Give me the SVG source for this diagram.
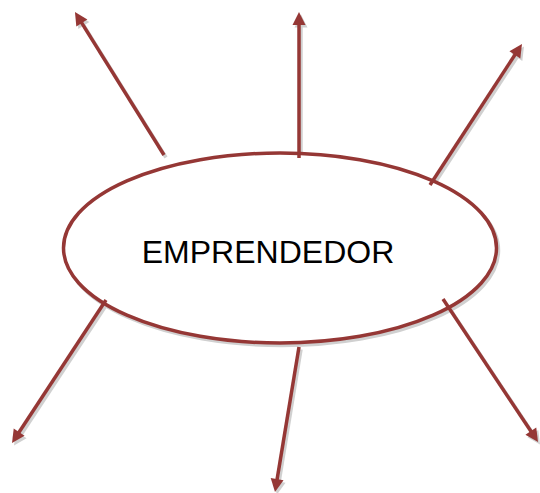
<svg xmlns="http://www.w3.org/2000/svg" width="540" height="493" viewBox="0 0 540 493">
<style>
.arr{stroke:#953735;stroke-width:3.5;fill:none;marker-end:url(#ah)}
.sh{stroke:#d0d0d0;stroke-width:3.5;fill:none;marker-end:url(#ahs)}
.lbl{font-family:"Liberation Sans",Arial,sans-serif;font-size:32px;fill:#000}
</style>
<defs>
<marker id="ah" markerUnits="userSpaceOnUse" markerWidth="13" markerHeight="13" refX="5" refY="6.5" orient="auto" overflow="visible">
<path d="M0,0 L13,6.5 L0,13 z" fill="#953735"/>
</marker>
<marker id="ahs" markerUnits="userSpaceOnUse" markerWidth="13" markerHeight="13" refX="5" refY="6.5" orient="auto" overflow="visible">
<path d="M0,0 L13,6.5 L0,13 z" fill="#d0d0d0"/>
</marker>
</defs>
<rect width="540" height="493" fill="#fff"/>
<g id="shadows" transform="translate(2,2.5)">
<ellipse cx="280" cy="248" rx="216.5" ry="95" fill="none" stroke="#d0d0d0" stroke-width="3.5"/>
<line class="sh" x1="164" y1="155" x2="79.2" y2="18.8"/>
<line class="sh" x1="299" y1="158" x2="299" y2="20"/>
<line class="sh" x1="430" y1="185" x2="517.6" y2="50.7"/>
<line class="sh" x1="106" y1="300" x2="16.4" y2="436.3"/>
<line class="sh" x1="299" y1="347" x2="276.3" y2="484.1"/>
<line class="sh" x1="443" y1="299" x2="533.6" y2="435.3"/>
</g>
<g id="node-emprendedor">
<ellipse cx="280" cy="248" rx="216.5" ry="95" fill="#fff" stroke="#953735" stroke-width="3.5"/>
<text class="lbl" x="268" y="263" text-anchor="middle">EMPRENDEDOR</text>
</g>
<g id="connectors">
<line class="arr" x1="164" y1="155" x2="79.2" y2="18.8"/>
<line class="arr" x1="299" y1="158" x2="299" y2="20"/>
<line class="arr" x1="430" y1="185" x2="517.6" y2="50.7"/>
<line class="arr" x1="106" y1="300" x2="16.4" y2="436.3"/>
<line class="arr" x1="299" y1="347" x2="276.3" y2="484.1"/>
<line class="arr" x1="443" y1="299" x2="533.6" y2="435.3"/>
</g>
</svg>
